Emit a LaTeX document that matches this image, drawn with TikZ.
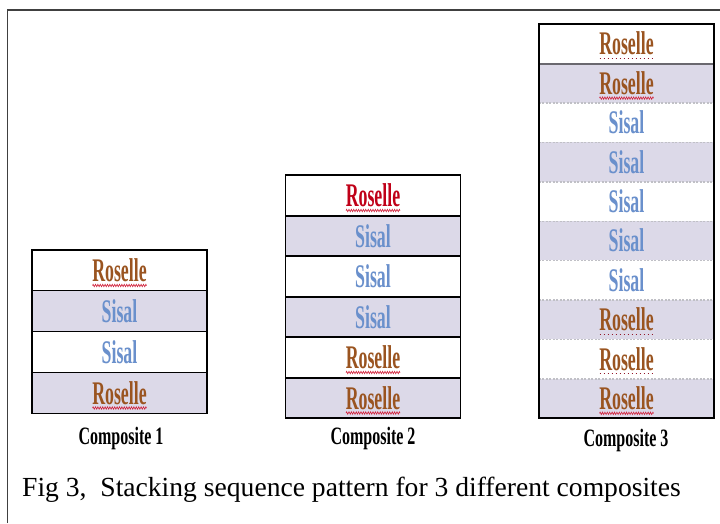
\documentclass[tikz,border=0pt]{standalone}
\usepackage{fontspec}
\setmainfont{Liberation Serif}
\newfontfamily\layerfont[FakeStretch=0.54]{Liberation Serif}
\newfontfamily\labelfont[FakeStretch=0.64]{Liberation Serif}
\usetikzlibrary{decorations.pathmorphing}
\definecolor{lav}{HTML}{DCD9E8}
\definecolor{rosec}{HTML}{9A5420}
\definecolor{redc}{HTML}{C00018}
\definecolor{sisc}{HTML}{6A90CC}
\definecolor{squigc}{HTML}{D0203A}
\definecolor{dashc}{HTML}{C0C0C6}
\tikzset{
  x=1pt, y=-1pt,
  layer/.style={draw=black, line width=1.6pt, minimum width=175pt, inner sep=0pt,
    font=\layerfont\bfseries\fontsize{33}{33}\selectfont},
  wlayer/.style={layer, fill=white},
  llayer/.style={layer, fill=lav},
  ros/.style={text=rosec},
  rosred/.style={text=redc},
  sis/.style={text=sisc},
  squig/.style={draw=squigc, line width=0.6pt, decorate,
    decoration={zigzag, amplitude=1.2pt, segment length=2.4pt}},
  dotsq/.style={draw=squigc!70!black, line width=1pt, dash pattern=on 1pt off 3pt},
  complabel/.style={font=\labelfont\bfseries\fontsize{25}{25}\selectfont, text=black},
  c3sep/.style={draw=dashc, line width=1.4pt, dash pattern=on 2pt off 1.5pt},
}
\begin{document}
\begin{tikzpicture}
\useasboundingbox (0,0) rectangle (720,523);
\fill[white] (0,0) rectangle (720,523);
% outer frame (top and left only)
\draw[line width=1.6pt, draw=black!75] (7.5,523) -- (7.5,10) -- (720,10);

% ---------- Composite 1 ----------
\node[wlayer, ros, minimum height=41pt] (a1) at (119.5,270.5) {Roselle};
\node[llayer, sis, minimum height=41pt] (a2) at (119.5,311) {Sisal};
\node[wlayer, sis, minimum height=41pt] (a3) at (119.5,352) {Sisal};
\node[llayer, ros, minimum height=41pt] (a4) at (119.5,393) {Roselle};
\draw[squig] ([xshift=-27pt,yshift=-15pt]a1.center) -- ([xshift=27pt,yshift=-15pt]a1.center);
\draw[squig] ([xshift=-27pt,yshift=-15pt]a4.center) -- ([xshift=27pt,yshift=-15pt]a4.center);
\node[complabel] (l1) at (121,438) {Composite 1};

% ---------- Composite 2 ----------
\node[wlayer, rosred, minimum height=40.5pt] (b1) at (373,195.5) {Roselle};
\node[llayer, sis, minimum height=40.5pt] (b2) at (373,236) {Sisal};
\node[wlayer, sis, minimum height=40.5pt] (b3) at (373,276.5) {Sisal};
\node[llayer, sis, minimum height=40.5pt] (b4) at (373,317) {Sisal};
\node[wlayer, ros, minimum height=40.5pt] (b5) at (373,357.5) {Roselle};
\node[llayer, ros, minimum height=40.5pt] (b6) at (373,398) {Roselle};
\foreach \n in {b1,b5,b6}
  \draw[squig] ([xshift=-27pt,yshift=-15pt]\n.center) -- ([xshift=27pt,yshift=-15pt]\n.center);
\node[complabel] (l2) at (373,438) {Composite 2};

% ---------- Composite 3 ----------
\begin{scope}[every node/.style={minimum height=39.4pt, minimum width=175pt, inner sep=0pt,
    font=\layerfont\bfseries\fontsize{33}{33}\selectfont}]
\node[fill=white, ros]  (c1)  at (626.5,43.7)  {Roselle};
\node[fill=lav, ros]    (c2)  at (626.5,83.1)  {Roselle};
\node[fill=white, sis]  (c3)  at (626.5,122.5) {Sisal};
\node[fill=lav, sis]    (c4)  at (626.5,161.9) {Sisal};
\node[fill=white, sis]  (c5)  at (626.5,201.3) {Sisal};
\node[fill=lav, sis]    (c6)  at (626.5,240.7) {Sisal};
\node[fill=white, sis]  (c7)  at (626.5,280.1) {Sisal};
\node[fill=lav, ros]    (c8)  at (626.5,319.5) {Roselle};
\node[fill=white, ros]  (c9)  at (626.5,358.9) {Roselle};
\node[fill=lav, ros]    (c10) at (626.5,398.3) {Roselle};
\end{scope}
\draw[draw=black!20!lav!60!black, line width=1.8pt] (c1.south west) -- (c1.south east);
\foreach \n in {c2,c3,c4,c5,c6,c7,c8,c9}
  \draw[c3sep] (\n.south west) -- (\n.south east);
\draw[line width=1.6pt] (c1.north west) rectangle (c10.south east);
\foreach \n in {c2,c10}
  \draw[squig] ([xshift=-27pt,yshift=-15pt]\n.center) -- ([xshift=27pt,yshift=-15pt]\n.center);
\foreach \n in {c1,c8,c9}
  \draw[dotsq] ([xshift=-27pt,yshift=-15pt]\n.center) -- ([xshift=27pt,yshift=-15pt]\n.center);
\node[complabel] (l3) at (626,440) {Composite 3};

% ---------- caption ----------
\node[anchor=base west, font=\fontsize{27.6}{27.6}\selectfont, inner sep=0pt] (cap) at (22,496)
  {Fig 3,\ \ Stacking sequence pattern for 3 different composites};
\end{tikzpicture}
\end{document}
